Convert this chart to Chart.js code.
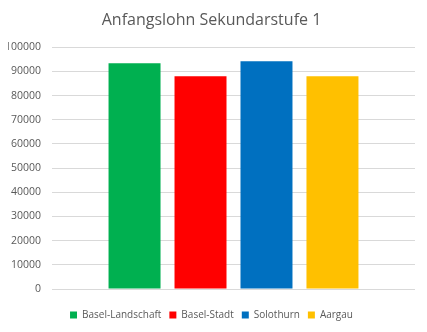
<!DOCTYPE html>
<html>
<head>
<meta charset="utf-8">
<script src="https://cdn.jsdelivr.net/npm/chart.js@4/dist/chart.umd.min.js"></script>
<style>
	html, body { margin: 0; padding: 0; background: #ffffff; }
	#wrap { width: 427px; height: 332px; }
</style>
</head>
<body>
<div id="wrap"><canvas id="chart" width="427" height="332"></canvas></div>
<script>
/*--------------------------------------------------------------------------------------------------------------------*/

const cantons = ['Basel-Landschaft', 'Basel-Stadt', 'Solothurn', 'Aargau'];
const salaries = [93400, 88000, 94200, 88000];
const colors = ['#00B050', '#FF0000', '#0070C0', '#FFC000'];
const yTicks = [0, 10000, 20000, 30000, 40000, 50000, 60000, 70000, 80000, 90000, 100000];

/*--------------------------------------------------------------------------------------------------------------------*/

const FONT = '"Open Sans", "DejaVu Sans", sans-serif';
const GREY = '#595959';

const datasets = cantons.map((name, i) => ({
	label: name,
	data: [salaries[i]],
	backgroundColor: colors[i],
	borderWidth: 0,
	categoryPercentage: 0.727,
	barPercentage: 0.788,
}));

new Chart(document.getElementById('chart').getContext('2d'), {
	type: 'bar',
	data: {
		labels: [''],
		datasets: datasets,
	},
	options: {
		responsive: false,
		animation: false,
		layout: {
			padding: {left: 8, right: 12, top: 11, bottom: 2},
		},
		plugins: {
			title: {
				display: true,
				text: 'Anfangslohn Sekundarstufe 1',
				color: GREY,
				font: {family: FONT, size: 16, weight: 'normal'},
				padding: {top: 0, bottom: 17},
			},
			legend: {
				position: 'bottom',
				labels: {
					color: GREY,
					font: {family: FONT, size: 10},
					boxWidth: 7,
					boxHeight: 7,
					padding: 8,
				},
			},
			tooltip: {enabled: false},
		},
		scales: {
			x: {
				ticks: {display: false},
				grid: {display: false},
				border: {display: false},
				afterFit: (axis) => {
					axis.height = 13;
				},
			},
			y: {
				min: 0,
				max: 100000,
				afterBuildTicks: (axis) => {
					axis.ticks = yTicks.map((v) => ({value: v}));
				},
				afterFit: (axis) => {
					axis.width = 44;
				},
				ticks: {
					color: GREY,
					font: {family: FONT, size: 10.5},
					padding: 11,
					callback: (v) => String(v),
				},
				grid: {
					color: '#D9D9D9',
					drawTicks: false,
				},
				border: {display: false},
			},
		},
	},
});

/*--------------------------------------------------------------------------------------------------------------------*/
</script>
</body>
</html>
